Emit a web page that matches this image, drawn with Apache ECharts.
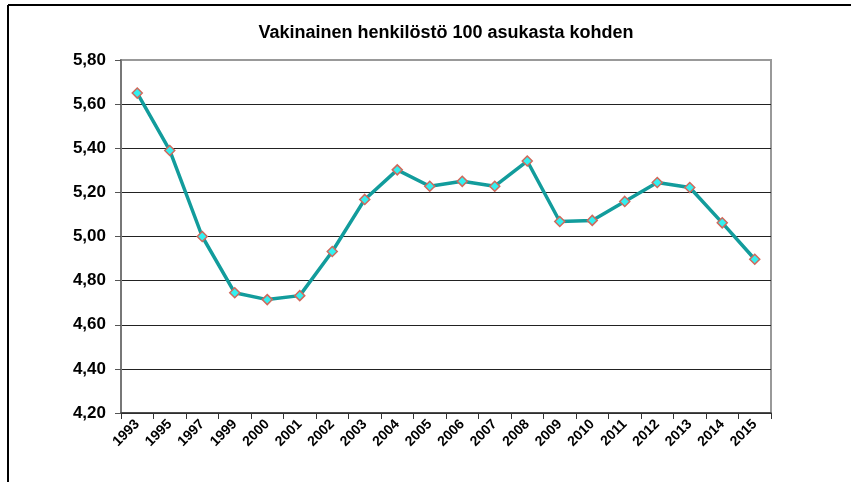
<!DOCTYPE html>
<html>
<head>
<meta charset="utf-8">
<script src="https://cdn.jsdelivr.net/npm/echarts@6/dist/echarts.min.js"></script>
<style>
html,body{margin:0;padding:0;background:#fff;}
#main{width:851px;height:482px;}
</style>
</head>
<body>
<div id="main"></div>
<script>
var titleText = 'Vakinainen henkilöstö 100 asukasta kohden';
var years = ['1993','1995','1997','1999','2000','2001','2002','2003','2004','2005','2006','2007','2008','2009','2010','2011','2012','2013','2014','2015'];
var values = [5.65, 5.39, 5.00, 4.745, 4.714, 4.732, 4.932, 5.168, 5.302, 5.228, 5.25, 5.228, 5.342, 5.068, 5.073, 5.159, 5.245, 5.222, 5.062, 4.897];
var yMin = 4.2, yMax = 5.8, yStep = 0.2;

var chart = echarts.init(document.getElementById('main'), null, {renderer:'canvas'});
var font = 'Liberation Sans, Arial, sans-serif';
chart.setOption({
  animation: false,
  backgroundColor: '#fff',
  title: {
    text: titleText,
    left: 441,
    top: 19,
    textAlign: 'center',
    textStyle: {fontFamily: font, fontSize: 18, fontWeight: 'bold', color: '#000'}
  },
  graphic: [
    {type:'line', shape:{x1:8,y1:5,x2:851,y2:5}, style:{stroke:'#000', lineWidth:2}},
    {type:'line', shape:{x1:8,y1:5,x2:8,y2:482}, style:{stroke:'#000', lineWidth:2}}
  ],
  grid: {
    left: 121, right: 80, top: 60, bottom: 69,
    show: true, borderColor: '#999', borderWidth: 2, backgroundColor: 'transparent'
  },
  xAxis: {
    type: 'category',
    data: years,
    boundaryGap: true,
    axisLine: {lineStyle: {color: '#333', width: 1.5}},
    axisTick: {show: true, length: 6, interval: 0, lineStyle: {color: '#333'}},
    axisLabel: {interval: 0, rotate: 45, margin: 9, fontFamily: font, fontSize: 14, fontWeight: 'bold', color: '#000'}
  },
  yAxis: {
    type: 'value',
    min: yMin, max: yMax, interval: yStep,
    axisLine: {show: true, lineStyle: {color: '#777', width: 2}},
    axisTick: {show: true, length: 6, lineStyle: {color: '#555'}},
    axisLabel: {margin: 15, fontFamily: font, fontSize: 17, fontWeight: 'bold', color: '#000',
      formatter: function(v){ return v.toFixed(2).replace('.', ','); }},
    splitLine: {show: true, lineStyle: {color: ['#222','#222','#222','#222','#222','#222','#222','#222','#999'], width: 1}}
  },
  series: [{
    type: 'line',
    data: values,
    symbol: 'diamond',
    symbolSize: 10,
    lineStyle: {color: '#129c9c', width: 3.5},
    itemStyle: {color: '#33f0f0', borderColor: '#d0695c', borderWidth: 1.5}
  }]
});
</script>
</body>
</html>
